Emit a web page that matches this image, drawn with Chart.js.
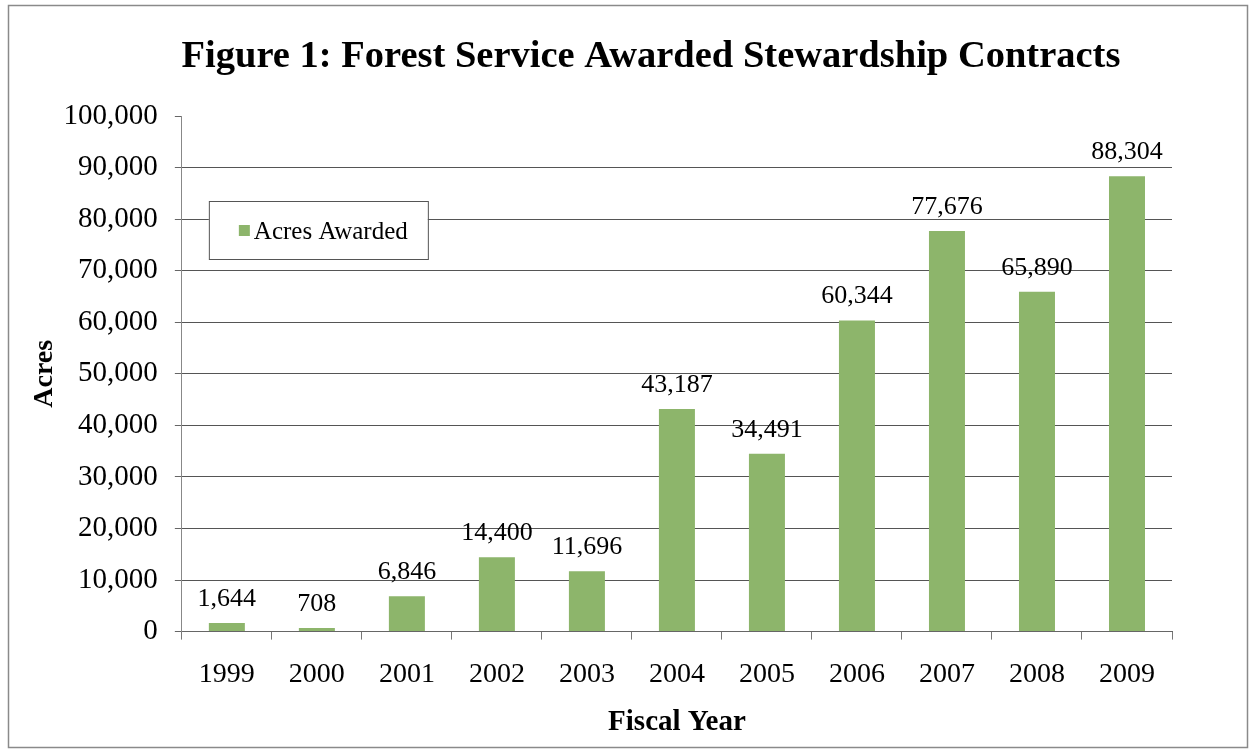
<!DOCTYPE html>
<html>
<head>
<meta charset="utf-8">
<script src="https://cdn.jsdelivr.net/npm/chart.js@4.4.0/dist/chart.umd.min.js"></script>
<style>
  body { margin: 0; background: #fff; }
  #wrap { position: relative; width: 1256px; height: 753px; }
</style>
</head>
<body>
<div id="wrap"><canvas id="chart" width="1256" height="753"></canvas></div>
<script>
// Chart data
const years = ['1999', '2000', '2001', '2002', '2003', '2004', '2005', '2006', '2007', '2008', '2009'];
const acresAwarded = [1644, 708, 6846, 14400, 11696, 43187, 34491, 60344, 77676, 65890, 88304];
const yTicks = [0, 10000, 20000, 30000, 40000, 50000, 60000, 70000, 80000, 90000, 100000];

const serif = '"Liberation Serif", "Times New Roman", serif';
const barGreen = '#8db56b';

// Outer frame and title
const framePlugin = {
  id: 'frame',
  beforeDraw(chart) {
    const ctx = chart.ctx;
    ctx.save();
    ctx.fillStyle = '#fff';
    ctx.fillRect(0, 0, chart.width, chart.height);
    ctx.strokeStyle = '#8a8a8a';
    ctx.lineWidth = 1.5;
    ctx.strokeRect(8.5, 5.5, chart.width - 17, chart.height - 11);
    ctx.fillStyle = '#000';
    ctx.font = 'bold 38.5px ' + serif;
    ctx.textAlign = 'center';
    ctx.textBaseline = 'alphabetic';
    ctx.fillText('Figure 1: Forest Service Awarded Stewardship Contracts', 651, 67);
    ctx.restore();
  }
};

// Value labels above bars
const valueLabels = {
  id: 'valueLabels',
  afterDatasetsDraw(chart) {
    const ctx = chart.ctx;
    const meta = chart.getDatasetMeta(0);
    ctx.save();
    ctx.fillStyle = '#000';
    ctx.font = '26px ' + serif;
    ctx.textAlign = 'center';
    ctx.textBaseline = 'alphabetic';
    meta.data.forEach((bar, i) => {
      ctx.fillText(acresAwarded[i].toLocaleString('en-US'), bar.x, bar.y - 17);
    });
    ctx.restore();
  }
};

// Legend box inside plot area
const boxLegend = {
  id: 'boxLegend',
  afterDraw(chart) {
    const ctx = chart.ctx;
    const area = chart.chartArea;
    const x = area.left + 27, y = area.top + 85, w = 219, h = 58;
    ctx.save();
    ctx.fillStyle = '#fff';
    ctx.fillRect(x, y, w, h);
    ctx.strokeStyle = '#555';
    ctx.lineWidth = 1;
    ctx.strokeRect(x + 0.5, y + 0.5, w, h);
    ctx.fillStyle = barGreen;
    ctx.fillRect(x + 30, y + 24, 11, 11);
    ctx.fillStyle = '#000';
    ctx.font = '25px ' + serif;
    ctx.textBaseline = 'middle';
    ctx.fillText(chart.data.datasets[0].label, x + 45, y + 31);
    ctx.restore();
  }
};

new Chart(document.getElementById('chart'), {
  type: 'bar',
  data: {
    labels: years,
    datasets: [{
      label: 'Acres Awarded',
      data: acresAwarded,
      backgroundColor: barGreen,
      barPercentage: 0.8,
      categoryPercentage: 0.5
    }]
  },
  options: {
    responsive: false,
    devicePixelRatio: 1,
    animation: false,
    layout: { padding: { top: 116, left: 28, right: 84, bottom: 13 } },
    plugins: {
      legend: { display: false },
      title: { display: false },
      tooltip: { enabled: false }
    },
    scales: {
      x: {
        grid: {
          drawOnChartArea: false,
          tickLength: 8,
          tickColor: '#777',
          offset: true
        },
        border: { color: '#666', width: 1 },
        ticks: {
          color: '#000',
          font: { family: serif, size: 28 },
          padding: 18
        },
        title: {
          display: true,
          text: 'Fiscal Year',
          color: '#000',
          font: { family: serif, size: 29, weight: 'bold' },
          padding: { top: -4, bottom: 0 }
        }
      },
      y: {
        min: 0,
        max: 100000,
        afterBuildTicks(axis) {
          axis.ticks = yTicks.map(v => ({ value: v }));
        },
        grid: {
          color: ctx => (ctx.tick && ctx.tick.value === 100000) ? 'rgba(0,0,0,0)' : '#555',
          tickLength: 7,
          tickColor: '#666'
        },
        border: { color: '#888', width: 1 },
        ticks: {
          color: '#000',
          font: { family: serif, size: 29 },
          padding: 17,
          callback: v => v.toLocaleString('en-US')
        },
        title: {
          display: true,
          text: 'Acres',
          color: '#000',
          font: { family: serif, size: 28, weight: 'bold' },
          padding: { top: 0, bottom: -15 }
        }
      }
    }
  },
  plugins: [framePlugin, valueLabels, boxLegend]
});
</script>
</body>
</html>
